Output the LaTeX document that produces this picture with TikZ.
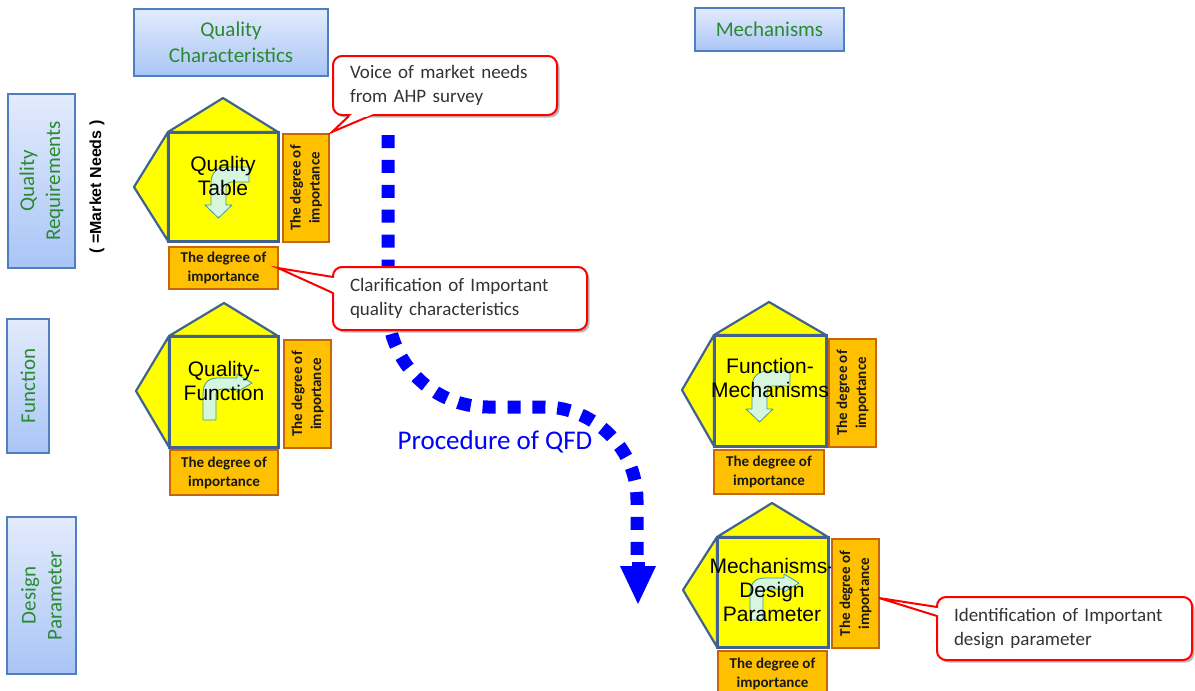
\documentclass[tikz,border=0pt]{standalone}
\usepackage{fontspec}
\setmainfont{Carlito}
\newfontfamily\arialf{Liberation Sans}
\usetikzlibrary{shadows}
\definecolor{hdrtop}{HTML}{E3EBFC}
\definecolor{hdrbot}{HTML}{A9C5F6}
\definecolor{hdrline}{HTML}{4F7FBF}
\definecolor{hdrtext}{HTML}{2A8A30}
\definecolor{hstroke}{HTML}{41628F}
\definecolor{hyellow}{HTML}{FFFF00}
\definecolor{impfill}{HTML}{FFC000}
\definecolor{impline}{HTML}{C8640A}
\definecolor{arrfill}{HTML}{D6F7DE}
\definecolor{arrline}{HTML}{3E9A9A}
\definecolor{calltext}{HTML}{333333}
\definecolor{qfdblue}{HTML}{0000FF}
\newcommand\bentleftdown[1]{\draw[bent,shift={#1}] (0,0) -- (-22,0) .. controls (-32,0) and (-38,6) .. (-38,16) -- (-38,38) -- (-44,38) -- (-30.5,51) -- (-17,38) -- (-23,38) -- (-23,20) .. controls (-23,17) and (-21,15) .. (-18,15) -- (0,15) -- cycle;}
\newcommand\bentupright[1]{\draw[bent,shift={#1}] (0,0) -- (0,-25) .. controls (0,-36) and (4,-42) .. (15,-42) -- (34,-42) -- (34,-46) -- (49,-37) -- (34,-28) -- (34,-31) -- (18,-31) .. controls (15,-31) and (13,-29) .. (13,-26) -- (13,0) -- cycle;}
\begin{document}
\begin{tikzpicture}[x=1pt,y=-1pt,
 hdr/.style={draw=hdrline,line width=2pt,top color=hdrtop,bottom color=hdrbot,text=hdrtext,font=\fontsize{21}{26}\selectfont,align=center,inner sep=0pt},
 sq/.style={draw=hstroke,line width=3pt,fill=hyellow,inner sep=0pt},
 tri/.style={draw=hstroke,line width=2.2pt,fill=hyellow,line join=round},
 imp/.style={draw=impline,line width=2.2pt,fill=impfill,font=\bfseries\fontsize{15}{19}\selectfont,align=center,inner sep=0pt,text=black!90},
 htext/.style={font=\arialf\fontsize{21}{24}\selectfont,align=center,inner sep=0pt},
 callbox/.style={draw=red,line width=2pt,fill=white,rounded corners=9pt,drop shadow={shadow xshift=2.5pt,shadow yshift=-2.5pt,fill=black!45,opacity=0.6},inner xsep=17pt,inner ysep=0pt,text=calltext,font=\fontsize{19}{24}\selectfont,align=left},
 tail/.style={draw=red,line width=2pt,line join=miter},
 bent/.style={fill=arrfill,draw=arrline,line width=0.8pt,line join=round},
 qfd/.style={draw=qfdblue,line width=13pt,dash pattern=on 13pt off 11.9pt}]

\useasboundingbox (0,0) rectangle (1195,691);
\clip (0,0) rectangle (1195,691);

% headers
\node[hdr,minimum width=194pt,minimum height=67pt] (qc) at (231,42.5) {Quality\\Characteristics};
\node[hdr,minimum width=149pt,minimum height=43pt] (mech) at (769.5,29.5) {Mechanisms};
\node[hdr,rotate=90,minimum width=174pt,minimum height=67pt] (qr) at (41.5,181) {Quality\\Requirements};
\node[hdr,rotate=90,minimum width=134pt,minimum height=42pt] (fn) at (28,386) {Function};
\node[hdr,rotate=90,minimum width=157pt,minimum height=69pt] (dp) at (41.5,595.5) {Design\\Parameter};
\node[rotate=90,font=\arialf\bfseries\fontsize{16}{18}\selectfont] (mn) at (97,187) {( =Market Needs )};

% house 1
\draw[tri] (168,132) -- (223,98) -- (278,132) -- cycle;
\draw[tri] (168,132) -- (134,187) -- (168,241) -- cycle;
\node[sq,minimum width=110pt,minimum height=109pt] (h1) at (223,186.5) {};
\bentleftdown{(249,167)}
\node[htext] (h1t) at (223,176) {Quality\\Table};
\node[imp,rotate=90,minimum width=108pt,minimum height=46pt] (h1r) at (306,188) {The degree of\\importance};
\node[imp,minimum width=109pt,minimum height=42pt] (h1b) at (223.5,268) {The degree of\\importance};

% house 2
\draw[tri] (169,336) -- (224,303) -- (278,336) -- cycle;
\draw[tri] (169,336) -- (136,391) -- (169,447) -- cycle;
\node[sq,minimum width=109pt,minimum height=111pt] (h2) at (223.5,391.5) {};
\bentupright{(203,420)}
\node[htext] (h2t) at (224,381) {Quality-\\Function};
\node[imp,rotate=90,minimum width=108pt,minimum height=47pt] (h2r) at (307.5,394) {The degree of\\importance};
\node[imp,minimum width=108pt,minimum height=45pt] (h2b) at (224,472.5) {The degree of\\importance};

% house 3
\draw[tri] (714,335) -- (769,302) -- (826,335) -- cycle;
\draw[tri] (714,335) -- (682,390) -- (714,446) -- cycle;
\node[sq,minimum width=112pt,minimum height=111pt] (h3) at (770,390.5) {};
\bentleftdown{(790,371)}
\node[htext] (h3t) at (770,378) {Function-\\Mechanisms};
\node[imp,rotate=90,minimum width=108pt,minimum height=47pt] (h3r) at (852.5,393) {The degree of\\importance};
\node[imp,minimum width=110pt,minimum height=44pt] (h3b) at (769,472) {The degree of\\importance};

% house 4
\draw[tri] (717,537) -- (772,503) -- (828,537) -- cycle;
\draw[tri] (717,537) -- (683,590) -- (717,647) -- cycle;
\node[sq,minimum width=111pt,minimum height=110pt] (h4) at (772.5,592) {};
\bentupright{(750,620)}
\node[htext] (h4t) at (772,590) {Mechanisms-\\Design\\Parameter};
\node[imp,rotate=90,minimum width=109pt,minimum height=47pt] (h4r) at (855.5,593.5) {The degree of\\importance};
\node[imp,minimum width=109pt,minimum height=45pt] (h4b) at (772.5,673.5) {The degree of\\importance};

% procedure path
\coordinate (qs) at (388,135);
\coordinate (qe) at (637,556);
\draw[qfd] (qs) -- (388,307) .. controls (388,362.2) and (432.8,407) .. (488,407) -- (545,407) .. controls (590,407) and (637,445) .. (637,500) -- (qe);
\fill[qfdblue] (631.5,562) rectangle (644.5,567);
\fill[qfdblue] (620,566) -- (656,566) -- (638,604) -- cycle;
\node[text=qfdblue,font=\fontsize{27}{30}\selectfont] (proc) at (495,442) {Procedure of QFD};

% callout 1
\node[callbox,text width=190pt,minimum height=59pt] (c1) at (445,85.5) {Voice of market needs\\from AHP survey};
\coordinate (c1tip) at (332,132);
\fill[white] (c1tip) -- (350,115) -- (372,115) -- cycle;
\draw[tail] (350,115) -- (c1tip) -- (372,115);
\fill[white] (353.3,113) -- (375.5,113) -- (366.6,116.8) -- (349.3,116.8) -- cycle;

% callout 2
\node[callbox,text width=220pt,minimum height=63pt] (c2) at (460,298.5) {Clarification of Important\\quality characteristics};
\coordinate (c2tip) at (278,268);
\fill[white] (c2tip) -- (333,277) -- (333,293) -- cycle;
\draw[tail] (333,277) -- (c2tip) -- (333,293);
\fill[white] (331.8,278) -- (336,278.5) -- (336,293.2) -- (331.8,291.25) -- cycle;

% callout 3
\node[callbox,text width=221pt,minimum height=63pt] (c3) at (1064.5,628.5) {Identification of Important\\design parameter};
\coordinate (c3tip) at (879,598);
\fill[white] (c3tip) -- (937,607) -- (937,616) -- cycle;
\draw[tail] (937,607) -- (c3tip) -- (937,616);
\fill[white] (935.8,608) -- (940,608.7) -- (940,615.7) -- (935.8,614.4) -- cycle;
\end{tikzpicture}
\end{document}
